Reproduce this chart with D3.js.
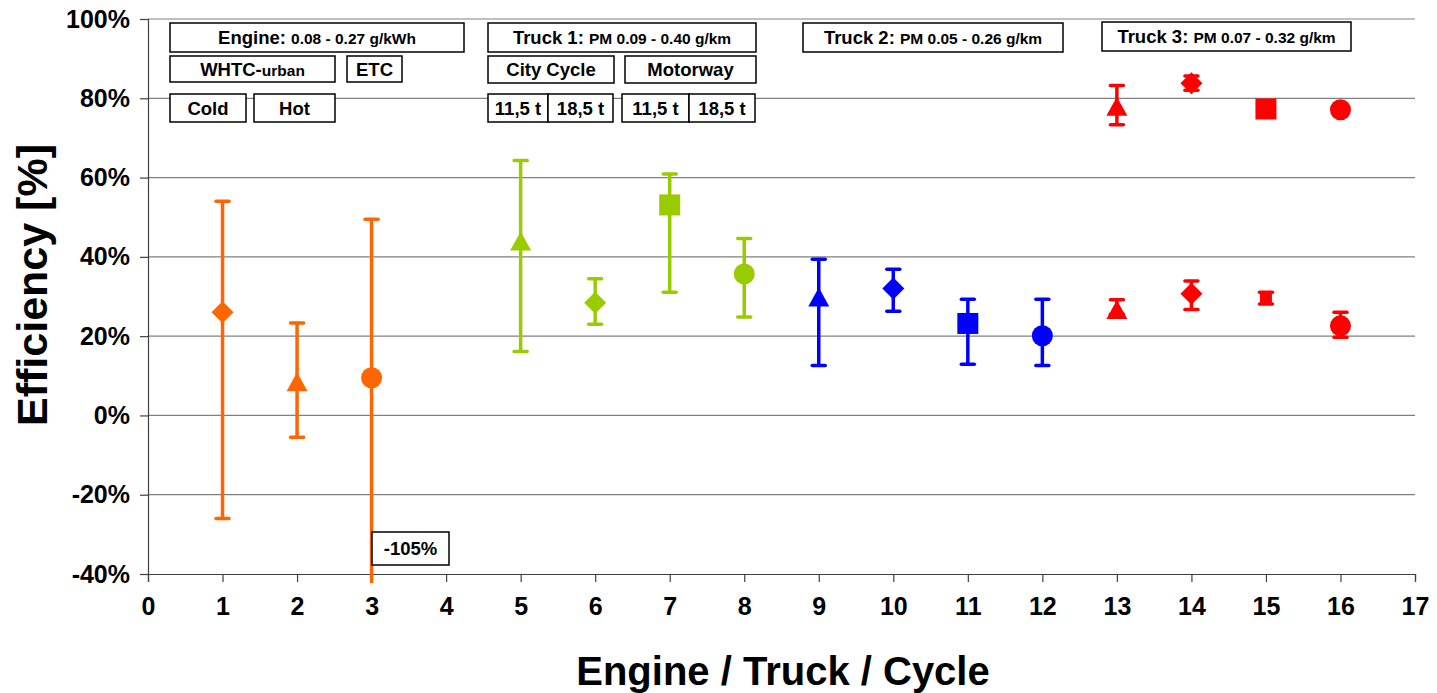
<!DOCTYPE html>
<html>
<head>
<meta charset="utf-8">
<script src="https://cdn.jsdelivr.net/npm/d3@7"></script>
<style>
  html, body { margin: 0; padding: 0; background: #fff; }
  svg { display: block; font-family: Arial, "Liberation Sans", sans-serif; }
</style>
</head>
<body>
<svg id="chart" width="1437" height="693"></svg>
<script>
// Axis ticks
const xTicks = d3.range(0, 18);
const yTicks = [-40, -20, 0, 20, 40, 60, 80, 100];

// Engine test bench (WHTC-urban cold / hot, ETC)
const engineX = [1, 2, 3];
const engineVal = [26, 8.5, 9.5];
const engineHi = [54, 23.3, 49.5];
const engineLo = [-26, -5.5, -105];
const engineShapes = ["diamond", "triangle", "circle"];

// Trucks: city cycle 11.5 t / 18.5 t, motorway 11.5 t / 18.5 t
const truckShapes = ["triangle", "diamond", "square", "circle"];

const truck1X = [5, 6, 7, 8];
const truck1Val = [44, 28.4, 53.1, 35.7];
const truck1Hi = [64.3, 34.5, 60.9, 44.6];
const truck1Lo = [16.1, 23, 31.1, 24.8];

const truck2X = [9, 10, 11, 12];
const truck2Val = [29.9, 32, 23.2, 20.1];
const truck2Hi = [39.4, 36.9, 29.3, 29.3];
const truck2Lo = [12.6, 26.3, 12.9, 12.6];

const truck3X = [13, 14, 15, 16];
const truck3aVal = [78, 83.8, 77.3, 77.1];
const truck3aHi = [83.2, 85.6, 77.3, 77.1];
const truck3aLo = [73.3, 82.0, 77.3, 77.1];
const truck3bVal = [26.7, 30.7, 29.6, 22.6];
const truck3bHi = [29.2, 33.9, 31.1, 26];
const truck3bLo = [25.5, 26.7, 28.1, 19.7];

function zipSeries(id, xs, vals, his, los, shapes) {
  return xs.map((x, i) => ({ id, x, v: vals[i], hi: his[i], lo: los[i], shape: shapes[i] }));
}

const series = [
  { key: "engine", color: "#FF6600", pts: zipSeries("engine", engineX, engineVal, engineHi, engineLo, engineShapes) },
  { key: "truck1", color: "#99CC00", pts: zipSeries("truck1", truck1X, truck1Val, truck1Hi, truck1Lo, truckShapes) },
  { key: "truck2", color: "#0000FF", pts: zipSeries("truck2", truck2X, truck2Val, truck2Hi, truck2Lo, truckShapes) },
  { key: "truck3a", color: "#FF0000", pts: zipSeries("truck3a", truck3X, truck3aVal, truck3aHi, truck3aLo, truckShapes) },
  { key: "truck3b", color: "#FF0000", pts: zipSeries("truck3b", truck3X, truck3bVal, truck3bHi, truck3bLo, truckShapes) }
];

// Layout
const W = 1437, H = 693;
const margin = { left: 148, right: 22, top: 19, bottom: 119 };
const x = d3.scaleLinear().domain([0, 17]).range([margin.left, W - margin.right]);
const y = d3.scaleLinear().domain([-40, 100]).range([H - margin.bottom, margin.top]);

const svg = d3.select("#chart");

// Horizontal gridlines
svg.append("g")
  .selectAll("line")
  .data(yTicks.filter(t => t !== -40))
  .join("line")
  .attr("x1", x(0)).attr("x2", x(17))
  .attr("y1", d => y(d)).attr("y2", d => y(d))
  .attr("stroke", "#808080").attr("stroke-width", 1.2);

// Y axis
const yAxis = svg.append("g")
  .attr("transform", `translate(${x(0)},0)`)
  .call(d3.axisLeft(y).tickValues(yTicks).tickSize(8).tickPadding(10).tickFormat(d => d + "%"));
yAxis.select(".domain").attr("stroke", "#404040").attr("stroke-width", 1.2);
yAxis.selectAll(".tick line").attr("stroke", "#404040").attr("stroke-width", 1.2);
yAxis.selectAll("text")
  .attr("font-size", 25).attr("font-weight", "bold").attr("fill", "#000")
  .attr("font-family", "Arial, 'Liberation Sans', sans-serif");

// X axis
const xAxis = svg.append("g")
  .attr("transform", `translate(0,${y(-40)})`)
  .call(d3.axisBottom(x).tickValues(xTicks).tickSize(8).tickPadding(15).tickFormat(d3.format("d")));
xAxis.select(".domain").attr("stroke", "#404040").attr("stroke-width", 1.2);
xAxis.selectAll(".tick line").attr("stroke", "#404040").attr("stroke-width", 1.2);
xAxis.selectAll("text")
  .attr("font-size", 25).attr("font-weight", "bold").attr("fill", "#000")
  .attr("font-family", "Arial, 'Liberation Sans', sans-serif");

// Axis titles
svg.append("text")
  .attr("x", 783).attr("y", 685)
  .attr("text-anchor", "middle")
  .attr("font-size", 40).attr("font-weight", "bold")
  .text("Engine / Truck / Cycle");

svg.append("text")
  .attr("transform", `translate(47,285) rotate(-90)`)
  .attr("text-anchor", "middle")
  .attr("font-size", 43).attr("font-weight", "bold")
  .text("Efficiency [%]");

// Clip for error bars running below the axis
svg.append("clipPath").attr("id", "plotClip")
  .append("rect").attr("x", 0).attr("y", 0).attr("width", W).attr("height", y(-40) + 9);

// Marker paths
function markerPath(shape, small) {
  if (shape === "triangle") return "M0,-9.5L10.5,9.5L-10.5,9.5Z";
  if (shape === "diamond") return "M0,-11L11,0L0,11L-11,0Z";
  if (shape === "square") { const s = small ? 6 : 10.5; return `M${-s},${-s}H${s}V${s}H${-s}Z`; }
  return d3.arc()({ innerRadius: 0, outerRadius: 10.5, startAngle: 0, endAngle: 2 * Math.PI });
}

const capHalf = 6.5;
series.forEach(s => {
  const g = svg.append("g");
  const eb = g.append("g").attr("clip-path", "url(#plotClip)")
    .attr("stroke", s.color).attr("stroke-linecap", "round");
  s.pts.forEach(p => {
    if (p.hi === p.lo) return;
    eb.append("line")
      .attr("x1", x(p.x)).attr("x2", x(p.x))
      .attr("y1", y(p.hi)).attr("y2", y(p.lo))
      .attr("stroke-width", 3.5).attr("stroke-linecap", "butt");
    [p.hi, p.lo].forEach(v => {
      eb.append("line")
        .attr("x1", x(p.x) - capHalf).attr("x2", x(p.x) + capHalf)
        .attr("y1", y(v)).attr("y2", y(v))
        .attr("stroke-width", 3.5);
    });
  });
  g.selectAll("path.marker")
    .data(s.pts)
    .join("path")
    .attr("class", "marker")
    .attr("transform", d => `translate(${x(d.x)},${y(d.v)})`)
    .attr("d", d => markerPath(d.shape, s.key === "truck3b"))
    .attr("fill", s.color);
});

// Annotation boxes
const boxes = [
  { x: 170, y: 23, w: 294, h: 29, parts: [["Engine: ", 18.5], ["0.08 - 0.27 g/kWh", 15.5]] },
  { x: 488, y: 23, w: 268, h: 29, parts: [["Truck 1: ", 18.5], ["PM 0.09 - 0.40 g/km", 15.5]] },
  { x: 803, y: 23, w: 260, h: 29, parts: [["Truck 2: ", 18.5], ["PM 0.05 - 0.26 g/km", 15.5]] },
  { x: 1102, y: 22, w: 249, h: 29, parts: [["Truck 3: ", 18.5], ["PM 0.07 - 0.32 g/km", 15.5]] },
  { x: 170, y: 56, w: 165, h: 26, parts: [["WHTC-", 18.5], ["urban", 15.5]] },
  { x: 347, y: 56, w: 55, h: 26, parts: [["ETC", 18.5]] },
  { x: 488, y: 56, w: 126, h: 27, parts: [["City Cycle", 18.5]] },
  { x: 625, y: 56, w: 131, h: 27, parts: [["Motorway", 18.5]] },
  { x: 170, y: 94, w: 76, h: 28, parts: [["Cold", 18.5]] },
  { x: 254, y: 94, w: 81, h: 28, parts: [["Hot", 18.5]] },
  { x: 488, y: 94, w: 60, h: 28, parts: [["11,5 t", 18.5]] },
  { x: 548, y: 94, w: 65, h: 28, parts: [["18,5 t", 18.5]] },
  { x: 622, y: 94, w: 67, h: 28, parts: [["11,5 t", 18.5]] },
  { x: 689, y: 94, w: 66, h: 28, parts: [["18,5 t", 18.5]] },
  { x: 372, y: 532, w: 77, h: 33, parts: [[engineLo[2] + "%", 18.5]] }
];

const bg = svg.append("g");
boxes.forEach(b => {
  bg.append("rect")
    .attr("x", b.x).attr("y", b.y).attr("width", b.w).attr("height", b.h)
    .attr("fill", "#fff").attr("stroke", "#000").attr("stroke-width", 1.5);
  const t = bg.append("text")
    .attr("x", b.x + b.w / 2).attr("y", b.y + b.h / 2 + 6.5)
    .attr("text-anchor", "middle").attr("font-weight", "bold");
  b.parts.forEach(([txt, size]) => {
    t.append("tspan").attr("font-size", size).text(txt);
  });
});
</script>
</body>
</html>
